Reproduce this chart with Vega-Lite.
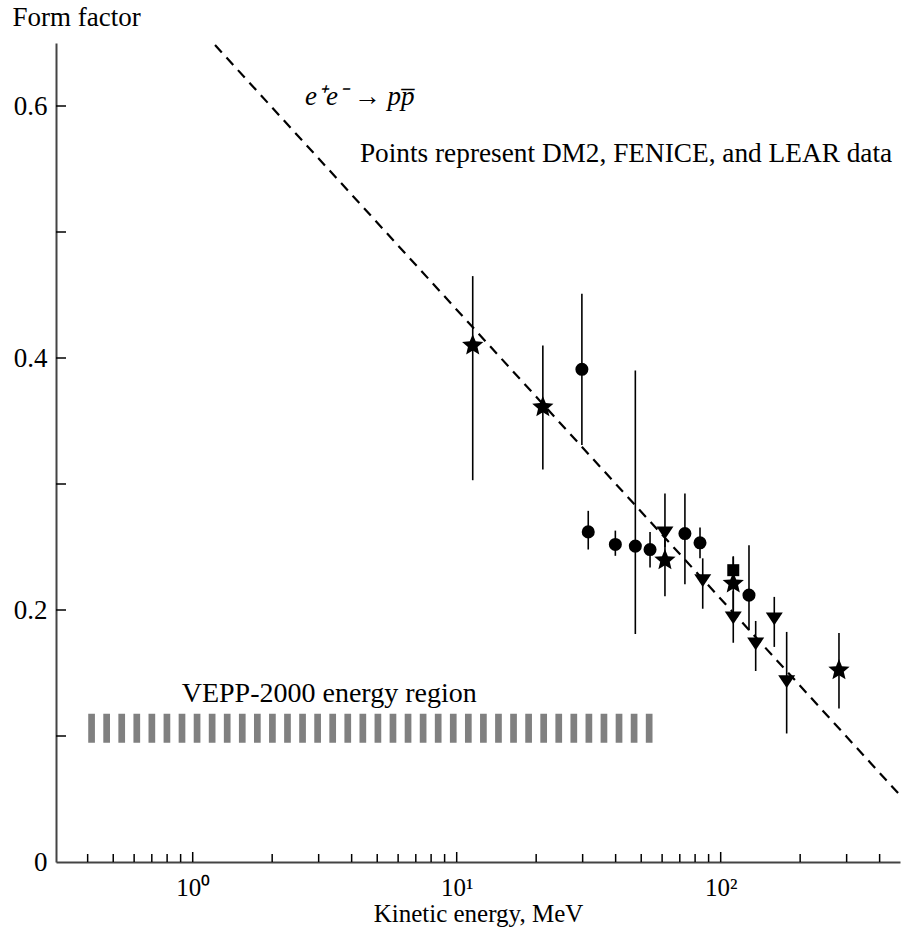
{
  "$schema": "https://vega.github.io/schema/vega-lite/v6.json",
  "width": 844,
  "height": 819,
  "autosize": {"type": "none"},
  "padding": {"left": 56, "top": 43, "right": 1, "bottom": 65},
  "background": "white",
  "config": {"view": {"stroke": null}, "font": "Liberation Serif"},
  "datasets": {
    "points": [
      {"x": 11.5, "y": 0.41, "lo": 0.303, "hi": 0.465, "shape": "star"},
      {"x": 21.2, "y": 0.361, "lo": 0.3115, "hi": 0.41, "shape": "star"},
      {"x": 29.8, "y": 0.391, "lo": 0.331, "hi": 0.451, "shape": "circle"},
      {"x": 31.5, "y": 0.262, "lo": 0.248, "hi": 0.2787, "shape": "circle"},
      {"x": 39.9, "y": 0.252, "lo": 0.243, "hi": 0.263, "shape": "circle"},
      {"x": 47.5, "y": 0.2507, "lo": 0.181, "hi": 0.39, "shape": "circle"},
      {"x": 54.0, "y": 0.248, "lo": 0.2337, "hi": 0.262, "shape": "circle"},
      {"x": 61.5, "y": 0.2615, "lo": 0.25, "hi": 0.2925, "shape": "triangle"},
      {"x": 61.5, "y": 0.2395, "lo": 0.211, "hi": 0.26, "shape": "star"},
      {"x": 73.2, "y": 0.2607, "lo": 0.2205, "hi": 0.2925, "shape": "circle"},
      {"x": 83.5, "y": 0.2533, "lo": 0.241, "hi": 0.2655, "shape": "circle"},
      {"x": 85.5, "y": 0.2237, "lo": 0.201, "hi": 0.241, "shape": "triangle"},
      {"x": 111.6, "y": 0.2316, "lo": 0.2316, "hi": 0.2427, "shape": "square"},
      {"x": 111.6, "y": 0.221, "lo": 0.2, "hi": 0.242, "shape": "star"},
      {"x": 111.6, "y": 0.194, "lo": 0.174, "hi": 0.215, "shape": "triangle"},
      {"x": 128, "y": 0.2118, "lo": 0.184, "hi": 0.2514, "shape": "circle"},
      {"x": 135.7, "y": 0.1734, "lo": 0.1516, "hi": 0.1913, "shape": "triangle"},
      {"x": 159.6, "y": 0.1932, "lo": 0.1707, "hi": 0.2104, "shape": "triangle"},
      {"x": 177.8, "y": 0.1435, "lo": 0.102, "hi": 0.1826, "shape": "triangle"},
      {"x": 280.6, "y": 0.1522, "lo": 0.1218, "hi": 0.1818, "shape": "star"}
    ],
    "fit": [{"x": 1.215, "y": 0.6484}, {"x": 477.8, "y": 0.053}],
    "vepp": [{"x": 0.402, "x2": 55.3, "y": 0.1062}],
    "xminor": [{"v": 0.4}, {"v": 0.5}, {"v": 0.6}, {"v": 0.7}, {"v": 0.8}, {"v": 0.9}, {"v": 2}, {"v": 3}, {"v": 4}, {"v": 5}, {"v": 6}, {"v": 7}, {"v": 8}, {"v": 9}, {"v": 20}, {"v": 30}, {"v": 40}, {"v": 50}, {"v": 60}, {"v": 70}, {"v": 80}, {"v": 90}, {"v": 200}, {"v": 300}, {"v": 400}],
    "xmajor": [{"v": 1}, {"v": 10}, {"v": 100}],
    "yticks": [{"v": 0.1}, {"v": 0.2}, {"v": 0.3}, {"v": 0.4}, {"v": 0.5}, {"v": 0.6}],
    "one": [{}]
  },
  "layer": [
    {
      "data": {"name": "vepp"},
      "mark": {"type": "rule", "strokeWidth": 29, "strokeDash": [6.7, 8.37], "color": "#808080", "strokeCap": "butt"},
      "encoding": {
        "x": {
          "field": "x", "type": "quantitative",
          "scale": {"type": "log", "domain": [0.3035, 477.8], "nice": false},
          "axis": {
            "title": "Kinetic energy, MeV",
            "titleFontSize": 25, "titleFontWeight": "normal", "titleColor": "black",
            "titleAnchor": "middle", "titleBaseline": "alphabetic", "titleY": 59,
            "values": [1, 10, 100],
            "labelExpr": "datum.value == 1 ? '10⁰' : (datum.value == 10 ? '10¹' : '10²')",
            "labelFontSize": 25, "labelColor": "black", "labelPadding": 13, "labelDx": 5,
            "labelFlush": false, "labelOverlap": false,
            "ticks": false, "tickSize": 0,
            "domainColor": "#444444", "domainWidth": 2, "grid": false
          }
        },
        "x2": {"field": "x2"},
        "y": {
          "field": "y", "type": "quantitative",
          "scale": {"domain": [0, 0.65], "nice": false, "zero": false},
          "axis": {
            "title": "Form factor",
            "titleFontSize": 27, "titleFontWeight": "normal", "titleColor": "black",
            "titleAngle": 0, "titleAlign": "left", "titleBaseline": "alphabetic",
            "titleX": -44, "titleY": -18,
            "values": [0, 0.2, 0.4, 0.6],
            "labelExpr": "datum.value == 0 ? '0' : format(datum.value, '.1f')",
            "labelFontSize": 27, "labelColor": "black", "labelPadding": 9, "labelBaseline": "middle",
            "labelFlush": false, "labelOverlap": false,
            "ticks": false, "tickSize": 0,
            "domainColor": "#444444", "domainWidth": 2, "grid": false
          }
        }
      }
    },
    {
      "data": {"name": "xminor"},
      "mark": {"type": "rule", "color": "black", "strokeWidth": 1.5, "y2Offset": -8},
      "encoding": {
        "x": {"field": "v", "type": "quantitative"},
        "y": {"datum": 0, "type": "quantitative"},
        "y2": {"datum": 0}
      }
    },
    {
      "data": {"name": "xmajor"},
      "mark": {"type": "rule", "color": "black", "strokeWidth": 1.5, "y2Offset": -10},
      "encoding": {
        "x": {"field": "v", "type": "quantitative"},
        "y": {"datum": 0, "type": "quantitative"},
        "y2": {"datum": 0}
      }
    },
    {
      "data": {"name": "yticks"},
      "mark": {"type": "rule", "color": "black", "strokeWidth": 1.5, "x2Offset": 10},
      "encoding": {
        "y": {"field": "v", "type": "quantitative"},
        "x": {"datum": 0.3035, "type": "quantitative"},
        "x2": {"datum": 0.3035}
      }
    },
    {
      "data": {"name": "fit"},
      "mark": {"type": "line", "color": "black", "strokeWidth": 2.2, "strokeDash": [10, 7]},
      "encoding": {
        "x": {"field": "x", "type": "quantitative"},
        "y": {"field": "y", "type": "quantitative"}
      }
    },
    {
      "data": {"name": "points"},
      "mark": {"type": "rule", "color": "black", "strokeWidth": 1.6},
      "encoding": {
        "x": {"field": "x", "type": "quantitative"},
        "y": {"field": "lo", "type": "quantitative"},
        "y2": {"field": "hi"}
      }
    },
    {
      "data": {"name": "points"},
      "mark": {"type": "point", "filled": true, "color": "black", "opacity": 1, "shape": "circle", "size": 170},
      "transform": [{"filter": "datum.shape == 'circle'"}],
      "encoding": {
        "x": {"field": "x", "type": "quantitative"},
        "y": {"field": "y", "type": "quantitative"}
      }
    },
    {
      "data": {"name": "points"},
      "mark": {"type": "point", "filled": true, "color": "black", "opacity": 1, "size": 500,
        "shape": "M0,-1L0.265,-0.364L0.951,-0.309L0.428,0.139L0.588,0.809L0,0.45L-0.588,0.809L-0.428,0.139L-0.951,-0.309L-0.265,-0.364Z"},
      "transform": [{"filter": "datum.shape == 'star'"}],
      "encoding": {
        "x": {"field": "x", "type": "quantitative"},
        "y": {"field": "y", "type": "quantitative"}
      }
    },
    {
      "data": {"name": "points"},
      "mark": {"type": "point", "filled": true, "color": "black", "opacity": 1, "size": 289,
        "shape": "M-1,-0.7L1,-0.7L0,0.8Z"},
      "transform": [{"filter": "datum.shape == 'triangle'"}],
      "encoding": {
        "x": {"field": "x", "type": "quantitative"},
        "y": {"field": "y", "type": "quantitative"}
      }
    },
    {
      "data": {"name": "points"},
      "mark": {"type": "point", "filled": true, "color": "black", "opacity": 1, "size": 144,
        "shape": "M-1,-1L1,-1L1,1L-1,1Z"},
      "transform": [{"filter": "datum.shape == 'square'"}],
      "encoding": {
        "x": {"field": "x", "type": "quantitative"},
        "y": {"field": "y", "type": "quantitative"}
      }
    },
    {
      "data": {"name": "one"},
      "mark": {"type": "text", "align": "left", "baseline": "alphabetic", "fontSize": 27, "fontStyle": "italic", "color": "black"},
      "encoding": {
        "x": {"datum": 2.664, "type": "quantitative"},
        "y": {"datum": 0.6008, "type": "quantitative"},
        "text": {"value": "e⁺e⁻ → pp̅"}
      }
    },
    {
      "data": {"name": "one"},
      "mark": {"type": "text", "align": "left", "baseline": "alphabetic", "fontSize": 27.3, "color": "black"},
      "encoding": {
        "x": {"datum": 4.3, "type": "quantitative"},
        "y": {"datum": 0.5555, "type": "quantitative"},
        "text": {"value": "Points represent DM2, FENICE, and LEAR data"}
      }
    },
    {
      "data": {"name": "one"},
      "mark": {"type": "text", "align": "left", "baseline": "alphabetic", "fontSize": 28, "color": "black"},
      "encoding": {
        "x": {"datum": 0.9085, "type": "quantitative"},
        "y": {"datum": 0.127, "type": "quantitative"},
        "text": {"value": "VEPP-2000 energy region"}
      }
    }
  ]
}
